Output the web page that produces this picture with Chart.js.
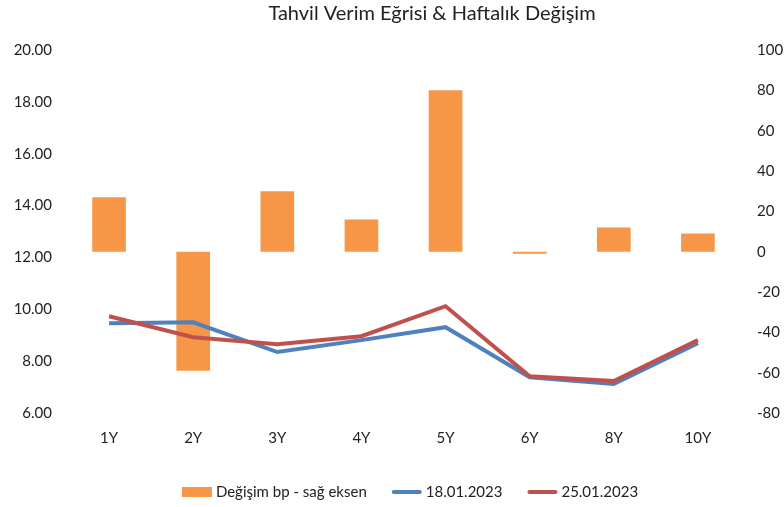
<!DOCTYPE html>
<html><head><meta charset="utf-8">
<script src="https://cdn.jsdelivr.net/npm/chart.js@4"></script>
<style>html,body{margin:0;padding:0;background:#fff}#wrap{width:784px;height:507px}</style>
</head><body><div id="wrap"><canvas id="c" width="784" height="507"></canvas></div>
<script>
const categories = ['1Y','2Y','3Y','4Y','5Y','6Y','8Y','10Y'];
const changeBp = [27, -59, 30, 16, 80, -1, 12, 9];
const yield18 = [9.46, 9.50, 8.35, 8.81, 9.31, 7.38, 7.12, 8.69];
const yield25 = [9.73, 8.92, 8.65, 8.96, 10.12, 7.42, 7.23, 8.81];
const seriesNames = ['Değişim bp - sağ eksen', '18.01.2023', '25.01.2023'];
const titleText = 'Tahvil Verim Eğrisi & Haftalık Değişim';

const FONT = 'Lato, "Open Sans", sans-serif';

// Legend drawn under the chart, using the datasets' own labels and colours
const legendPlugin = {
  id: 'bottomLegend',
  afterDraw(chart) {
    const ctx = chart.ctx;
    const cy = 492, markerW = 30, gapText = 4, gapItem = 25, centerX = 410;
    ctx.save();
    ctx.font = '15px ' + FONT;
    const items = chart.data.datasets.map(ds => ({ ds, w: markerW + gapText + ctx.measureText(ds.label).width }));
    const total = items.reduce((s, it) => s + it.w, 0) + gapItem * (items.length - 1);
    let x = centerX - total / 2;
    items.forEach(({ ds, w }) => {
      if (ds.type === 'bar') {
        ctx.fillStyle = ds.backgroundColor;
        ctx.fillRect(x, cy - 5, markerW, 10);
      } else {
        ctx.strokeStyle = ds.borderColor;
        ctx.lineWidth = 4;
        ctx.lineCap = 'round';
        ctx.beginPath(); ctx.moveTo(x + 2, cy); ctx.lineTo(x + markerW - 2, cy); ctx.stroke();
      }
      ctx.fillStyle = '#222';
      ctx.textBaseline = 'middle';
      ctx.textAlign = 'left';
      ctx.fillText(ds.label, x + markerW + gapText, cy);
      x += w + gapItem;
    });
    ctx.restore();
  }
};
const shiftPlugin = {
  id: 'shift',
  afterLayout(chart) {
    if (chart.titleBlock) { chart.titleBlock.left += 40; chart.titleBlock.right += 40; }
  }
};
new Chart(document.getElementById('c'), {
  plugins: [shiftPlugin, legendPlugin],
  data: {
    labels: categories,
    datasets: [
      { type: 'bar', label: seriesNames[0], data: changeBp, yAxisID: 'yR', backgroundColor: '#F79646', order: 3, barPercentage: 0.4, categoryPercentage: 1.0 },
      { type: 'line', label: seriesNames[1], data: yield18, yAxisID: 'yL', borderColor: '#4F81BD', backgroundColor: '#4F81BD', borderWidth: 4, pointRadius: 0, tension: 0, order: 2 },
      { type: 'line', label: seriesNames[2], data: yield25, yAxisID: 'yL', borderColor: '#C0504D', backgroundColor: '#C0504D', borderWidth: 4, pointRadius: 0, tension: 0, order: 1 }
    ]
  },
  options: {
    responsive: false,
    animation: false,
    layout: { padding: { left: 0, right: 0, top: 0, bottom: 54 } },
    plugins: {
      title: { display: true, text: titleText, color: '#222', font: { family: FONT, size: 20, weight: 'normal' }, padding: { top: 2, bottom: 24 } },
      legend: { display: false },
      tooltip: { enabled: false }
    },
    scales: {
      x: { grid: { display: false, drawTicks: false }, border: { display: false }, ticks: { color: '#222', font: { family: FONT, size: 15 }, padding: 16 },
           afterFit(s) { s.height = 40; } },
      yL: { position: 'left', min: 6, max: 20, grid: { display: false, drawTicks: false }, border: { display: false },
            ticks: { stepSize: 2, color: '#222', font: { family: FONT, size: 15 }, padding: 15, callback: v => v.toFixed(2) },
            afterFit(s) { s.width = 67; } },
      yR: { position: 'right', min: -80, max: 100, grid: { display: false, drawTicks: false }, border: { display: false },
            ticks: { stepSize: 20, color: '#222', font: { family: FONT, size: 15 }, padding: 17 },
            afterFit(s) { s.width = 44; } }
    }
  }
});
</script></body></html>
